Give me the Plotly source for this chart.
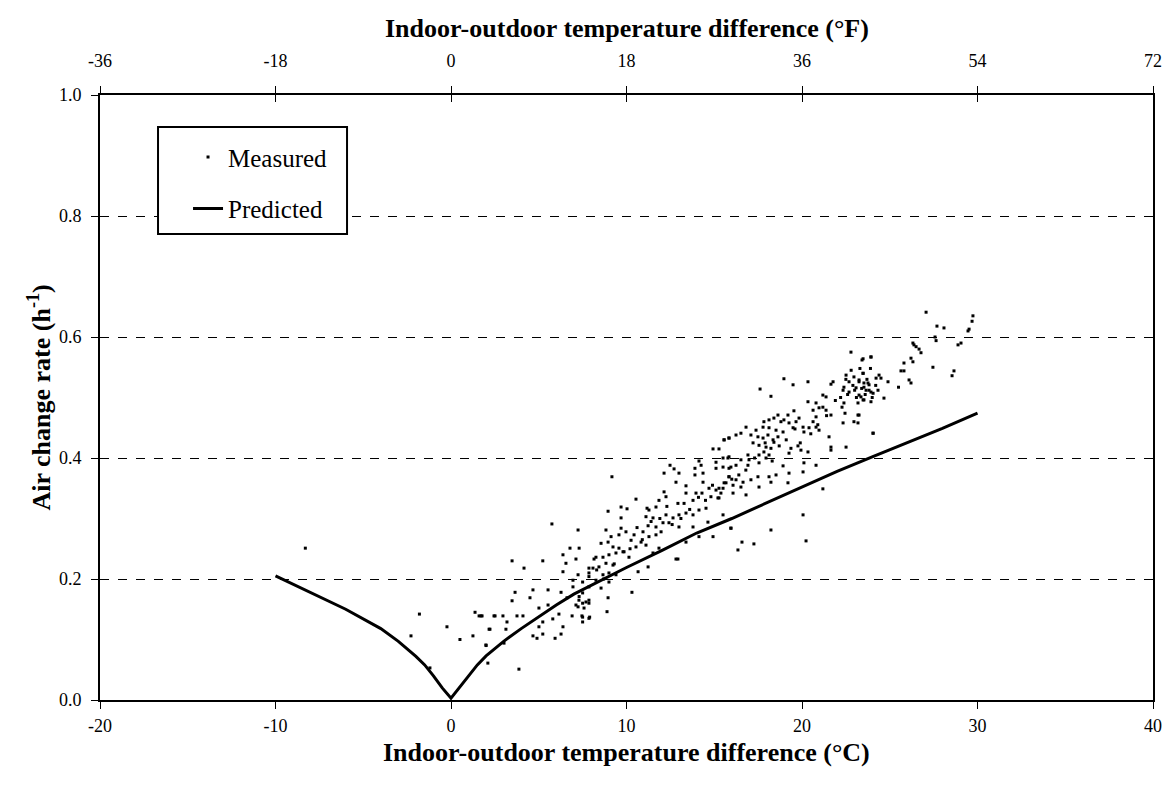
import plotly.graph_objects as go

# Predicted curve (°C difference, air change rate h^-1)
pred_dt = [-10, -8, -6, -4, -3, -2, -1.5, -1, -0.5, 0, 0.5, 1, 1.5, 2, 3, 4, 5, 6, 7, 8, 10, 12, 14, 16, 18, 20, 22, 24, 26, 28, 30]
pred_ach = [0.205, 0.178, 0.150, 0.118, 0.097, 0.072, 0.058, 0.040, 0.020, 0.003, 0.022, 0.040, 0.058, 0.073, 0.097, 0.118, 0.138, 0.157, 0.175, 0.190, 0.219, 0.247, 0.276, 0.300, 0.326, 0.352, 0.378, 0.402, 0.425, 0.449, 0.474]

# Measured points (°C difference, air change rate h^-1)
meas_dt = [
    -8.3, -1.8, -2.28, -1.2, -0.23, 0.51, 1.37, 1.71, 1.25, 2.17, 2.0, 2.1, 2.45,
    5.75, 7.24, 6.78, 7.3, 3.48, 5.23, 4.16, 6.38, 6.55, 6.38, 7.12, 8.15, 7.86, 6.95, 7.24, 7.86, 6.95,
    3.65, 4.67, 5.53, 6.27, 3.48, 4.5, 5.01, 5.53, 6.61, 7.3, 7.5, 7.86, 7.24, 1.6, 1.77, 2.51, 2.96,
    3.76, 4.1, 3.19, 6.15, 6.9, 7.46, 7.5, 7.9, 5.8, 5.23, 2.22, 3.13, 5.01, 6.38, 4.67, 4.9, 5.23,
    5.93, 6.27, 1.99, 3.02, 3.87,
    9.17, 10.54, 8.95, 9.69, 10.03, 9.69, 11.17, 11.68, 12.14, 12.48, 12.71, 12.99, 12.82, 13.9, 14.25,
    14.36, 14.36, 13.39, 12.14, 12.25, 11.85, 12.93, 13.28, 13.39, 13.79, 13.96, 14.3, 14.7, 14.81, 15.1,
    15.27, 15.5, 15.67, 15.84, 14.93, 15.27, 15.56, 15.84, 15.78, 15.84, 15.1, 14.13, 13.9, 11.28, 11.51,
    11.11, 11.23, 11.68, 12.08, 12.42, 12.65, 12.99, 13.39, 13.79, 14.13, 14.53, 12.99, 11.97, 11.68,
    11.28, 10.94, 10.43, 10.83, 11.11, 10.54, 10.26, 9.97, 9.69, 9.57, 9.12, 8.83, 8.95, 8.55, 9.23,
    9.57, 9.4, 9.86, 10.14, 9.0, 8.66, 8.26, 8.83, 8.43, 8.09, 9.23, 9.0, 9.4, 8.66, 7.86, 8.26, 9.0,
    7.5, 7.86, 8.55, 7.5, 7.29, 7.69, 7.86, 8.95, 7.58, 7.12, 7.5, 7.86, 8.89, 10.31, 10.66, 11.23,
    12.82, 12.93, 11.51, 11.85, 13.39, 14.13, 14.93, 15.95, 13.79, 14.64, 12.25,
    22.79, 23.48, 23.93, 17.61, 18.23, 18.97, 19.49, 20.34, 21.77, 21.65, 22.51, 22.68, 22.96, 23.25,
    23.48, 23.53, 23.76, 23.82, 24.05, 23.25, 23.08, 22.68, 22.39, 22.34, 23.48, 23.19, 23.93, 22.39,
    22.28, 22.45, 22.34, 22.96, 23.25, 24.05, 21.19, 21.37, 20.34, 20.8, 20.97, 21.19, 21.37, 21.65,
    20.63, 20.8, 19.54, 19.2, 18.97, 19.26, 19.66, 19.83, 20.06, 20.63, 20.8, 20.4, 20.11, 20.97, 19.49,
    18.8, 18.4, 18.63, 18.12, 17.83, 17.78, 18.12, 18.52, 18.92, 17.38, 17.09, 17.49, 17.78, 18.06,
    18.35, 18.63, 16.81, 16.52, 16.24, 15.84, 15.56, 17.21, 17.55, 17.95, 18.23, 17.83, 17.55, 18.12,
    18.4, 19.37, 19.77, 19.94, 20.34, 19.26, 21.65, 21.65, 21.54, 22.51, 16.92, 16.98, 16.52, 16.24,
    15.84, 15.5, 15.1, 15.5, 15.95, 16.92, 17.55, 17.95, 18.92, 20.11, 20.8, 15.84, 16.24, 16.64,
    17.49, 18.12, 18.52, 19.26, 20.06, 15.56, 16.07, 16.52, 17.09, 17.55, 18.23, 19.2, 15.27, 15.38,
    16.07, 16.81, 15.21, 15.5, 15.95, 18.23, 20.06, 21.19, 20.23, 16.58, 17.26, 16.35,
    27.07, 27.69, 28.09, 29.74, 29.69, 29.52, 29.46, 27.58, 27.64, 28.89, 29.06, 26.32, 26.5, 26.67,
    26.78, 26.38, 26.21, 26.32, 25.81, 25.64, 25.81, 27.46, 28.66, 28.55, 26.1, 26.21, 25.5, 24.67,
    24.9, 24.39, 24.22, 24.5, 23.93, 23.42, 23.48, 23.25, 23.53, 23.82, 23.65, 23.36, 23.53, 23.93,
    24.33, 23.19, 23.19, 24.05,
    22.6, 22.9, 23.1, 23.4, 23.7, 24.0, 22.5, 22.8, 23.0, 23.3, 23.6, 23.9, 22.2, 24.2,
    21.9, 21.4, 20.9, 20.5, 19.9, 19.6, 19.1, 18.7, 18.3, 17.9, 17.3, 16.8, 16.4, 16.0,
    14.9, 14.5, 14.1, 13.6, 13.1, 12.6, 12.3, 11.9, 11.4, 10.9, 10.6, 10.2, 9.8, 9.3, 8.7, 8.3,
]
meas_ach = [
    0.251, 0.142, 0.106, 0.053, 0.121, 0.100, 0.145, 0.139, 0.106, 0.117, 0.090, 0.061, 0.139,
    0.291, 0.281, 0.251, 0.251, 0.230, 0.230, 0.218, 0.240, 0.226, 0.212, 0.233, 0.233, 0.218, 0.198, 0.207, 0.204, 0.187,
    0.178, 0.182, 0.182, 0.178, 0.164, 0.169, 0.152, 0.157, 0.169, 0.171, 0.160, 0.160, 0.154, 0.139, 0.139, 0.139, 0.139,
    0.139, 0.139, 0.129, 0.142, 0.139, 0.139, 0.129, 0.137, 0.134, 0.129, 0.117, 0.117, 0.121, 0.121, 0.106, 0.102, 0.109,
    0.102, 0.109, 0.091, 0.094, 0.051,
    0.369, 0.332, 0.312, 0.319, 0.316, 0.301, 0.317, 0.319, 0.375, 0.388, 0.382, 0.375, 0.360, 0.372, 0.388,
    0.375, 0.360, 0.354, 0.344, 0.336, 0.330, 0.325, 0.325, 0.342, 0.330, 0.342, 0.342, 0.350, 0.336, 0.347,
    0.334, 0.350, 0.359, 0.369, 0.415, 0.415, 0.430, 0.433, 0.400, 0.383, 0.383, 0.395, 0.383, 0.314, 0.301,
    0.303, 0.288, 0.286, 0.293, 0.293, 0.301, 0.306, 0.309, 0.306, 0.314, 0.317, 0.286, 0.278, 0.273,
    0.270, 0.278, 0.273, 0.261, 0.256, 0.253, 0.264, 0.278, 0.284, 0.273, 0.270, 0.281, 0.261, 0.259, 0.253,
    0.251, 0.243, 0.245, 0.236, 0.240, 0.236, 0.236, 0.226, 0.220, 0.218, 0.223, 0.210, 0.207, 0.207, 0.210, 0.198, 0.195,
    0.195, 0.187, 0.185, 0.177, 0.165, 0.162, 0.165, 0.169, 0.152, 0.157, 0.137, 0.135, 0.146, 0.178, 0.212, 0.220,
    0.233, 0.233, 0.243, 0.251, 0.261, 0.270, 0.270, 0.284, 0.286, 0.294, 0.306,
    0.575, 0.564, 0.567, 0.514, 0.502, 0.531, 0.521, 0.526, 0.526, 0.522, 0.537, 0.526, 0.534, 0.526,
    0.540, 0.517, 0.524, 0.512, 0.507, 0.504, 0.516, 0.509, 0.517, 0.512, 0.496, 0.491, 0.493, 0.491,
    0.484, 0.474, 0.458, 0.460, 0.471, 0.441, 0.504, 0.501, 0.493, 0.491, 0.483, 0.484, 0.479, 0.471,
    0.479, 0.468, 0.478, 0.471, 0.463, 0.458, 0.460, 0.466, 0.451, 0.460, 0.451, 0.450, 0.443, 0.446, 0.450,
    0.460, 0.466, 0.471, 0.463, 0.460, 0.451, 0.450, 0.446, 0.443, 0.446, 0.438, 0.435, 0.433, 0.438,
    0.430, 0.435, 0.451, 0.441, 0.438, 0.433, 0.430, 0.425, 0.421, 0.418, 0.416, 0.410, 0.405, 0.405,
    0.426, 0.416, 0.420, 0.413, 0.410, 0.408, 0.418, 0.413, 0.435, 0.418, 0.405, 0.397, 0.397, 0.388,
    0.402, 0.400, 0.393, 0.385, 0.385, 0.388, 0.392, 0.400, 0.387, 0.392, 0.388, 0.369, 0.364, 0.360,
    0.369, 0.369, 0.372, 0.375, 0.377, 0.359, 0.355, 0.352, 0.364, 0.352, 0.360, 0.359, 0.350, 0.342,
    0.342, 0.339, 0.334, 0.306, 0.284, 0.281, 0.306, 0.349, 0.263, 0.261, 0.258, 0.248,
    0.641, 0.618, 0.615, 0.635, 0.626, 0.613, 0.610, 0.600, 0.594, 0.587, 0.590, 0.590, 0.584, 0.580,
    0.574, 0.587, 0.565, 0.559, 0.557, 0.544, 0.544, 0.550, 0.544, 0.536, 0.529, 0.524, 0.517, 0.499,
    0.526, 0.537, 0.532, 0.532, 0.567, 0.562, 0.540, 0.529, 0.524, 0.521, 0.512, 0.501, 0.496, 0.509,
    0.512, 0.471, 0.458, 0.441,
    0.505, 0.520, 0.500, 0.515, 0.530, 0.500, 0.530, 0.545, 0.512, 0.548, 0.505, 0.548, 0.500, 0.520,
    0.495, 0.470, 0.455, 0.440, 0.425, 0.448, 0.430, 0.420, 0.395, 0.425, 0.400, 0.380, 0.372, 0.365,
    0.355, 0.330, 0.335, 0.315, 0.300, 0.290, 0.320, 0.300, 0.295, 0.265, 0.285, 0.250, 0.245, 0.225, 0.200, 0.215,
]

y_ticks = [0.0, 0.2, 0.4, 0.6, 0.8, 1.0]
x_ticks_c = [-20, -10, 0, 10, 20, 30, 40]
x_ticks_f = [-36, -18, 0, 18, 36, 54, 72]

SERIF = "Liberation Serif, Times New Roman, serif"

fig = go.Figure()
fig.add_trace(go.Scatter(
    x=meas_dt, y=meas_ach, mode="markers", name="Measured", legendgroup="m",
    marker=dict(symbol="square", size=3, color="black", line=dict(width=0)),
))
fig.add_trace(go.Scatter(
    x=pred_dt, y=pred_ach, mode="lines", name="Predicted", legendgroup="p",
    line=dict(color="black", width=3),
))
# invisible traces anchoring the °F axes
fig.add_trace(go.Scatter(
    x=[x_ticks_f[0], x_ticks_f[-1]], y=[0, 0], xaxis="x2", mode="markers",
    marker=dict(opacity=0), showlegend=False, hoverinfo="skip",
))
fig.add_trace(go.Scatter(
    x=[x_ticks_f[0], x_ticks_f[-1]], y=[0, 0], xaxis="x3", mode="markers",
    marker=dict(opacity=0), showlegend=False, hoverinfo="skip",
))

tickfont = dict(family=SERIF, size=18, color="black")
titlefont = dict(family=SERIF, size=26, color="black", weight="bold")

# page has an 8px body margin, so the figure is drawn 8px in and 8px down
fig.update_layout(
    width=1164, height=782,
    paper_bgcolor="white", plot_bgcolor="white",
    margin=dict(l=92, r=19, t=87, b=90),
    font=dict(family=SERIF, color="black"),
    xaxis=dict(
        range=[x_ticks_c[0], x_ticks_c[-1]], tickvals=x_ticks_c, ticktext=[str(v) for v in x_ticks_c],
        showgrid=False, zeroline=False, showline=True, linecolor="black", linewidth=2,
        ticks="outside", ticklen=7, tickwidth=1, tickcolor="black", ticklabelstandoff=1,
        tickfont=tickfont, automargin=False,
    ),
    xaxis2=dict(
        range=[x_ticks_f[0], x_ticks_f[-1]], tickvals=x_ticks_f, ticktext=[str(v) for v in x_ticks_f],
        overlaying="x", side="top", anchor="y",
        showgrid=False, zeroline=False, showline=True, linecolor="black", linewidth=2,
        ticks="outside", ticklen=7, tickwidth=1, tickcolor="black", ticklabelstandoff=12,
        tickfont=tickfont, automargin=False,
    ),
    xaxis3=dict(
        range=[x_ticks_f[0], x_ticks_f[-1]], tickvals=x_ticks_f,
        overlaying="x", side="top", anchor="y",
        showgrid=False, zeroline=False, showline=False, showticklabels=False,
        ticks="inside", ticklen=7, tickwidth=1, tickcolor="black", automargin=False,
    ),
    yaxis=dict(
        range=[0, 1], tickvals=y_ticks, ticktext=[f"{v:.1f}" for v in y_ticks],
        showgrid=True, gridcolor="black", gridwidth=1, griddash="dash",
        zeroline=False, showline=True, linecolor="black", linewidth=2, mirror=True,
        ticks="outside", ticklen=7, tickwidth=1, tickcolor="black", ticklabelstandoff=6,
        tickfont=tickfont, automargin=False,
    ),
    legend=dict(
        x=0.0836, y=0.935, xanchor="left", yanchor="top",
        bgcolor="rgba(0,0,0,0)", borderwidth=0,
        font=dict(family=SERIF, size=25, color="black"),
        itemsizing="trace", tracegroupgap=16,
    ),
    shapes=[dict(
        type="rect", xref="paper", yref="paper",
        x0=0.0551, x1=0.2346, y0=0.7702, y1=0.9471,
        line=dict(color="black", width=2), fillcolor="white", layer="above",
    )],
    annotations=[
        dict(text="Indoor-outdoor temperature difference (°C)", xref="paper", yref="paper",
             x=0.5, y=0, xanchor="center", yanchor="middle", yshift=-52, showarrow=False, font=titlefont),
        dict(text="Indoor-outdoor temperature difference (°F)", xref="paper", yref="paper",
             x=0.5, y=1, xanchor="center", yanchor="middle", yshift=67, showarrow=False, font=titlefont),
        dict(text="Air change rate (h<sup>-1</sup>)", xref="paper", yref="paper",
             x=0, y=0.5, xanchor="center", yanchor="middle", xshift=-60, textangle=-90,
             showarrow=False, font=titlefont),
    ],
)

fig.write_html("out.html")
